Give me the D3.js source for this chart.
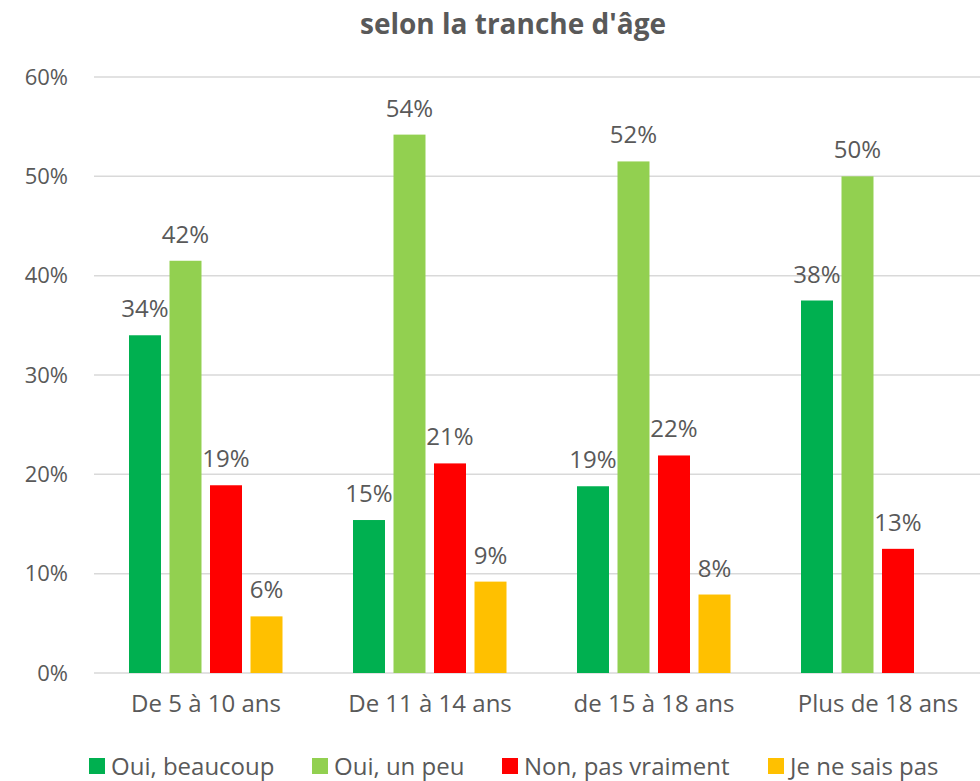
<!DOCTYPE html>
<html lang="fr">
<head>
<meta charset="UTF-8">
<title>selon la tranche d'âge</title>
<style>
	body { margin: 0; background: #fff; }
	text { font-family: "Open Sans", "DejaVu Sans", sans-serif; fill: #595959; }
</style>
</head>
<body>
<script src="https://cdn.jsdelivr.net/npm/d3@7/dist/d3.min.js"></script>
<script>
	// données
	var categories = ["De 5 à 10 ans", "De 11 à 14 ans", "de 15 à 18 ans", "Plus de 18 ans"];
	var series = ["Oui, beaucoup", "Oui, un peu", "Non, pas vraiment", "Je ne sais pas"];
	var ouiBeaucoup = [34.0, 15.4, 18.8, 37.5];
	var ouiUnPeu = [41.5, 54.2, 51.5, 50.0];
	var nonPasVraiment = [18.9, 21.1, 21.9, 12.5];
	var jeNeSaisPas = [5.7, 9.2, 7.9, null];
	var yTicks = [0, 10, 20, 30, 40, 50, 60];
	var colors = ["#00B050", "#92D050", "#FF0000", "#FFC000"];

	var values = [ouiBeaucoup, ouiUnPeu, nonPasVraiment, jeNeSaisPas];

	var width = 980, height = 781;
	var margin = { top: 77, right: -10, bottom: 108, left: 94 };

	var svg = d3.select("body").append("svg")
		.attr("width", width)
		.attr("height", height);

	var x0 = d3.scaleBand()
		.domain(categories)
		.range([margin.left, width - margin.right]);

	var x1 = d3.scaleBand()
		.domain(series)
		.range([35, 188.5])
		.paddingInner(0.21);

	var y = d3.scaleLinear()
		.domain([0, 60])
		.range([height - margin.bottom, margin.top]);

	// titre
	svg.append("text")
		.attr("x", 513)
		.attr("y", 34)
		.attr("text-anchor", "middle")
		.style("font-size", "28px")
		.style("font-weight", "bold")
		.text("selon la tranche d'âge");

	// grille
	svg.append("g").selectAll("line")
		.data(yTicks)
		.enter().append("line")
		.attr("x1", margin.left)
		.attr("x2", width)
		.attr("y1", function(d) { return y(d); })
		.attr("y2", function(d) { return y(d); })
		.attr("stroke", "#d9d9d9")
		.attr("stroke-width", 1.5);

	// axe y
	var yAxis = d3.axisLeft(y)
		.tickValues(yTicks)
		.tickSize(0)
		.tickPadding(26)
		.tickFormat(function(d) { return d + "%"; });
	var gy = svg.append("g")
		.attr("transform", "translate(" + margin.left + ",0)")
		.call(yAxis);
	gy.select(".domain").remove();
	gy.selectAll("text").style("font-size", "22px").attr("fill", "#595959");

	// axe x
	var xAxis = d3.axisBottom(x0).tickSize(0).tickPadding(22);
	var gx = svg.append("g")
		.attr("transform", "translate(0," + (height - margin.bottom) + ")")
		.call(xAxis);
	gx.select(".domain").remove();
	gx.selectAll("text").style("font-size", "24px").attr("fill", "#595959");

	// barres
	var groups = svg.append("g").selectAll("g")
		.data(categories)
		.enter().append("g")
		.attr("transform", function(d) { return "translate(" + x0(d) + ",0)"; });

	var bars = groups.selectAll("g")
		.data(function(d, i) {
			return series.map(function(s, j) { return { s: s, j: j, v: values[j][i] }; })
				.filter(function(e) { return e.v != null; });
		})
		.enter().append("g");

	bars.append("rect")
		.attr("x", function(d) { return x1(d.s); })
		.attr("y", function(d) { return y(d.v); })
		.attr("width", x1.bandwidth())
		.attr("height", function(d) { return y(0) - y(d.v); })
		.attr("fill", function(d) { return colors[d.j]; });

	bars.append("text")
		.attr("x", function(d) { return x1(d.s) + x1.bandwidth() / 2; })
		.attr("y", function(d) { return y(d.v) - 18; })
		.attr("text-anchor", "middle")
		.style("font-size", "24px")
		.attr("fill", "#404040")
		.text(function(d) { return Math.round(d.v) + "%"; });

	// légende
	var legendX = [89, 312, 502, 768];
	var legend = svg.append("g").selectAll("g")
		.data(series)
		.enter().append("g")
		.attr("transform", function(d, i) { return "translate(" + legendX[i] + ",758)"; });
	legend.append("rect")
		.attr("width", 16)
		.attr("height", 16)
		.attr("fill", function(d, i) { return colors[i]; });
	legend.append("text")
		.attr("x", 22)
		.attr("y", 17)
		.style("font-size", "24px")
		.text(function(d) { return d; });
</script>
</body>
</html>
